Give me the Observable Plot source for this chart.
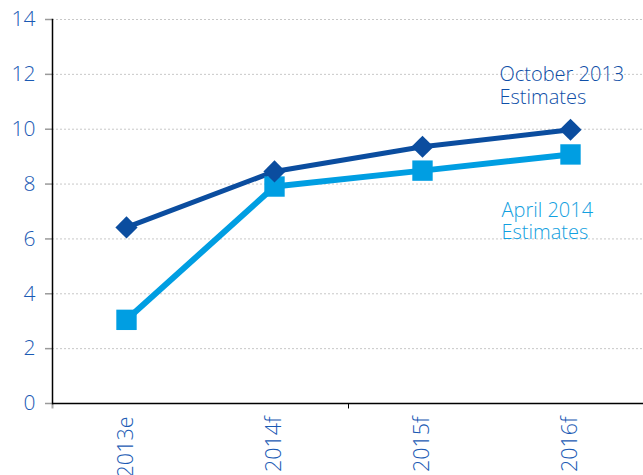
<!DOCTYPE html>
<html>
<head>
<meta charset="utf-8">
<script src="https://cdn.jsdelivr.net/npm/d3@7"></script>
<script src="https://cdn.jsdelivr.net/npm/@observablehq/plot@0.6"></script>
<style>
  html, body { margin: 0; padding: 0; background: #fff; }
  #chart svg { display: block; }
</style>
</head>
<body>
<div id="chart"></div>
<script>
const categories = ["2013e", "2014f", "2015f", "2016f"];
const october2013 = [6.42, 8.46, 9.36, 9.98];
const april2014 = [3.05, 7.91, 8.49, 9.08];
const yTicks = [0, 2, 4, 6, 8, 10, 12, 14];
const seriesNames = ["October 2013\nEstimates", "April 2014\nEstimates"];

const darkBlue = "#0b4d9f";
const lightBlue = "#009ee2";
const tickText = "#1a5ab4";

const oct = categories.map((c, i) => ({cat: c, v: october2013[i]}));
const apr = categories.map((c, i) => ({cat: c, v: april2014[i]}));

const chart = Plot.plot({
  width: 643,
  height: 475,
  marginLeft: 52,
  marginRight: -1,
  marginTop: 19,
  marginBottom: 72,
  style: {fontFamily: "'Open Sans', sans-serif", fontWeight: 300, background: "#fff", overflow: "hidden"},
  x: {type: "band", domain: categories, padding: 0, axis: null},
  y: {domain: [0, 14], axis: null},
  marks: [
    Plot.gridY(yTicks, {stroke: "#c8c8c8", strokeOpacity: 1, strokeDasharray: "2,2", strokeWidth: 1}),
    Plot.axisY({ticks: yTicks, tickSize: 7, tickFormat: () => "", stroke: "#9a9a9a", strokeWidth: 1.5, label: null}),
    Plot.text(yTicks, {y: d => d, frameAnchor: "left", textAnchor: "end", dx: -17, fontSize: 21, fill: tickText}),
    Plot.text(categories, {x: d => d, frameAnchor: "bottom", rotate: -90, textAnchor: "end", lineAnchor: "middle", dy: 13, fontSize: 21.5, fill: tickText}),
    Plot.ruleX([categories[0]], {dx: -74, y1: 0, y2: -0.2, stroke: "#aaa", strokeWidth: 2}),
    Plot.ruleX([categories[1]], {dx: 74, y1: 0, y2: -0.2, stroke: "#000", strokeWidth: 1}),
    Plot.ruleY([0], {stroke: "#000", strokeWidth: 1.5}),
    Plot.frame({anchor: "left", stroke: "#000", strokeWidth: 1.5}),
    Plot.line(apr, {x: "cat", y: "v", stroke: lightBlue, strokeWidth: 6}),
    Plot.line(oct, {x: "cat", y: "v", stroke: darkBlue, strokeWidth: 5}),
    Plot.dot(apr, {x: "cat", y: "v", symbol: "square", r: 11.5, fill: lightBlue}),
    Plot.dot(oct, {x: "cat", y: "v", symbol: "diamond2", r: 10, fill: darkBlue}),
    Plot.text([seriesNames[0]], {x: () => categories[3], y: () => 11.6, text: d => d, textAnchor: "start", lineAnchor: "middle", dx: -71, fill: "#0f4fa8", fontSize: 20, lineHeight: 1.12}),
    Plot.text([seriesNames[1]], {x: () => categories[3], y: () => 6.67, text: d => d, textAnchor: "start", lineAnchor: "middle", dx: -69, fill: "#12a0e0", fontSize: 20, lineHeight: 1.12})
  ]
});
document.getElementById("chart").append(chart);
</script>
</body>
</html>
